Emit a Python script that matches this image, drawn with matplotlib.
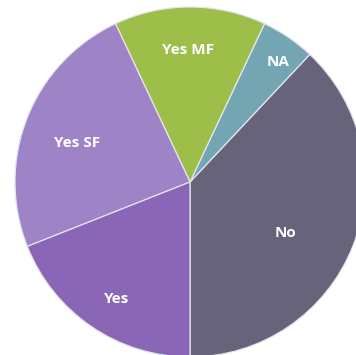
import numpy as np
import matplotlib

matplotlib.use("Agg")
import matplotlib.pyplot as plt

# === Data ===
labels = ["No", "NA", "Yes MF", "Yes SF", "Yes"]
shares = [38, 5, 14, 24, 19]
colors = ["#66637a", "#74a5b3", "#9dbf4a", "#9e84c6", "#8966b6"]

# label placement (radius, angle in degrees)
label_r = [0.62, 0.85, 0.755, 0.68, 0.79]
label_ang = [332, 53.5, 91, 161, 238]

# === Plot ===
fig = plt.figure(figsize=(3.56, 3.55), dpi=100)
ax = fig.add_axes([0, 0, 1, 1])

wedges, _ = ax.pie(shares, colors=colors, startangle=270, counterclock=True,
                   radius=1.0, center=(0, 0),
                   wedgeprops=dict(edgecolor="#e4e4ee", linewidth=0.9))

for lab, r, a in zip(labels, label_r, label_ang):
    t = np.deg2rad(a)
    ax.text(r * np.cos(t), r * np.sin(t), lab, ha="center", va="center",
            color="white", fontsize=11, fontweight="bold",
            family=["Open Sans", "DejaVu Sans"])

ax.set_xlim(-190 / 175, 166 / 175)
ax.set_ylim(-173 / 175, 182 / 175)
ax.set_aspect("auto")
ax.axis("off")

fig.savefig("out.png", dpi=100)
